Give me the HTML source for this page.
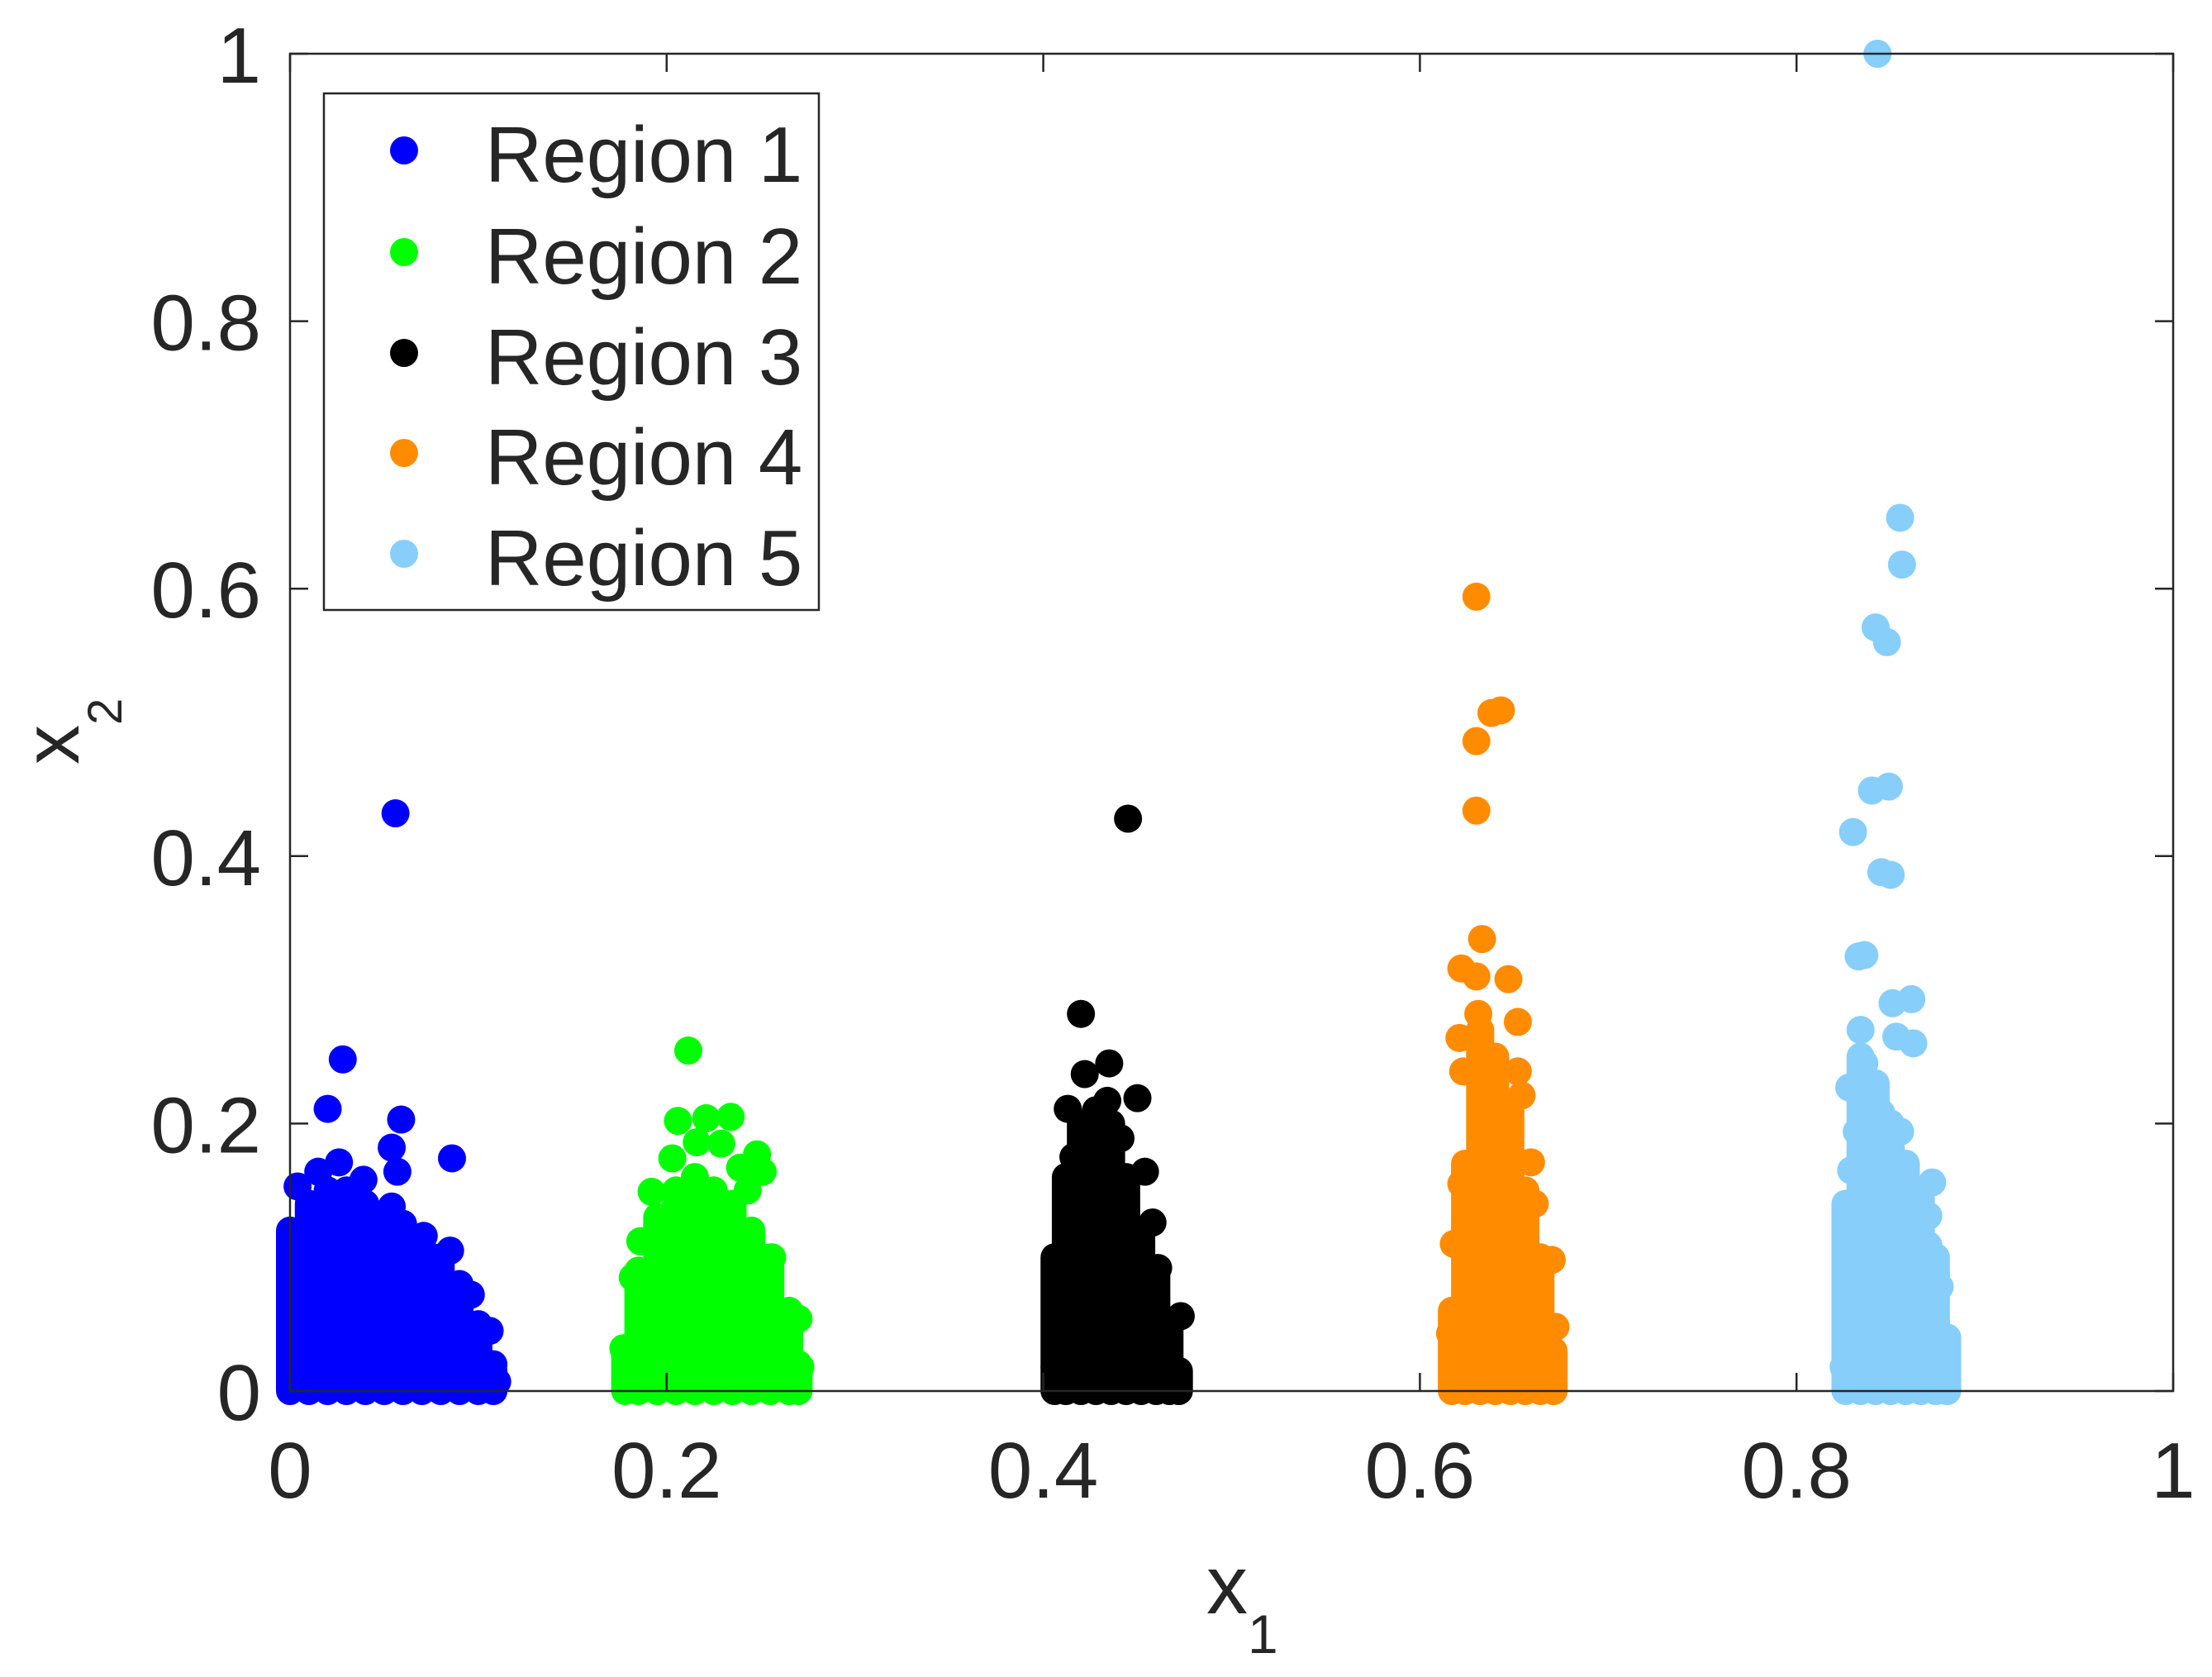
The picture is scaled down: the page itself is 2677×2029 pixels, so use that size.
<!DOCTYPE html>
<html><head><meta charset="utf-8">
<style>
html,body{margin:0;padding:0;background:#fff;}
svg{display:block;}
text{font-family:"Liberation Sans",Arial,sans-serif;fill:#262626;}
</style></head>
<body>
<svg id="chart" width="2677" height="2029" viewBox="0 0 2677 2029" xmlns="http://www.w3.org/2000/svg">
<rect x="0" y="0" width="2677" height="2029" fill="#fff"/>
<defs><clipPath id="clip"><rect x="300" y="20" width="2377" height="1700"/></clipPath></defs>
<g id="marks" clip-path="url(#clip)"></g>
<g id="axes"></g>
<g id="legend"></g>
</svg>
<script>
// ---- data ----
const regionNames = ["Region 1","Region 2","Region 3","Region 4","Region 5"];
const regionColors = ["#0000ff","#00ff00","#000000","#ff8c00","#87cefa"];
// dense body envelopes: column x and top of column (x2)
const r1BodyX = [0.0,0.01,0.02,0.03,0.04,0.05,0.06,0.07,0.08,0.09,0.1,0.108];
const r1BodyTop = [0.12,0.14,0.15,0.15,0.14,0.13,0.125,0.11,0.1,0.08,0.05,0.015];
const r2BodyX = [0.178,0.185,0.195,0.205,0.215,0.225,0.235,0.245,0.255,0.265,0.27];
const r2BodyTop = [0.03,0.09,0.13,0.15,0.16,0.15,0.14,0.12,0.1,0.06,0.02];
const r3BodyX = [0.406,0.412,0.42,0.428,0.436,0.444,0.452,0.46,0.467,0.472];
const r3BodyTop = [0.1,0.16,0.2,0.21,0.2,0.16,0.12,0.09,0.05,0.015];
const r4BodyX = [0.617,0.624,0.632,0.64,0.648,0.656,0.664,0.671];
const r4BodyTop = [0.06,0.17,0.27,0.25,0.21,0.15,0.1,0.03];
const r5BodyX = [0.826,0.834,0.842,0.85,0.858,0.866,0.874,0.88];
const r5BodyTop = [0.14,0.25,0.23,0.2,0.17,0.15,0.1,0.04];
// individual scattered points
const r1PtX = [0.056,0.028,0.020,0.059,0.086,0.054,0.026,0.015,0.004,0.039,0.057,0.054,0.030,0.071,0.085,0.096,0.106,0.108,0.110,0.0,0.0];
const r1PtY = [0.432,0.248,0.211,0.203,0.174,0.182,0.171,0.164,0.153,0.158,0.164,0.138,0.138,0.116,0.105,0.072,0.045,0.02,0.007,0.114,0.08];
const r2PtX = [0.2115,0.206,0.221,0.234,0.216,0.229,0.203,0.248,0.251,0.239,0.215,0.192,0.243,0.186,0.256,0.182,0.270,0.271,0.177];
const r2PtY = [0.2546,0.202,0.204,0.205,0.186,0.185,0.174,0.177,0.164,0.167,0.159,0.149,0.150,0.112,0.1,0.085,0.054,0.018,0.032];
const r3PtX = [0.445,0.420,0.435,0.422,0.413,0.434,0.450,0.441,0.454,0.416,0.412,0.458,0.461,0.473,0.471,0.406,0.408];
const r3PtY = [0.428,0.282,0.245,0.237,0.211,0.217,0.219,0.189,0.164,0.175,0.140,0.126,0.092,0.056,0.014,0.018,0.101];
const r4PtX = [0.630,0.638,0.643,0.630,0.630,0.633,0.622,0.630,0.647,0.631,0.652,0.621,0.623,0.652,0.654,0.659,0.622,0.661,0.618,0.670,0.672,0.671,0.616];
const r4PtY = [0.594,0.507,0.509,0.486,0.434,0.338,0.316,0.310,0.308,0.282,0.276,0.264,0.239,0.239,0.221,0.171,0.155,0.140,0.110,0.098,0.048,0.011,0.043];
const r5PtX = [0.843,0.855,0.856,0.842,0.848,0.840,0.849,0.830,0.845,0.850,0.833,0.836,0.851,0.861,0.834,0.862,0.853,0.836,0.828,0.845,0.832,0.855,0.829,0.872,0.827,0.870,0.870,0.876,0.878,0.878,0.825];
const r5PtY = [1.0,0.653,0.618,0.571,0.560,0.449,0.452,0.418,0.388,0.386,0.325,0.326,0.290,0.293,0.270,0.260,0.265,0.245,0.227,0.208,0.194,0.194,0.165,0.156,0.135,0.131,0.109,0.078,0.038,0.013,0.018];
const xTickLabels = ["0","0.2","0.4","0.6","0.8","1"];
const yTickLabels = ["0","0.2","0.4","0.6","0.8","1"];

// ---- layout ----
const L=351, R=2630, T=65, B=1683, MR=17;
function sx(v){return L+v*(R-L);}
function sy(v){return B-v*(B-T);}
const NS="http://www.w3.org/2000/svg";
function mk(tag,attrs,parent){const e=document.createElementNS(NS,tag);for(const k in attrs)e.setAttribute(k,attrs[k]);parent.appendChild(e);return e;}
const marks=document.getElementById('marks');
const bodies=[[r1BodyX,r1BodyTop],[r2BodyX,r2BodyTop],[r3BodyX,r3BodyTop],[r4BodyX,r4BodyTop],[r5BodyX,r5BodyTop]];
const pts=[[r1PtX,r1PtY],[r2PtX,r2PtY],[r3PtX,r3PtY],[r4PtX,r4PtY],[r5PtX,r5PtY]];
for(let r=0;r<5;r++){
  const g=mk('g',{},marks);
  
  
  const bx=bodies[r][0], bt=bodies[r][1];
  for(let i=0;i<bx.length;i++){
    const c=mk('line',{x1:sx(bx[i]),x2:sx(bx[i]),y1:sy(0),y2:sy(bt[i]),stroke:regionColors[r],'stroke-width':2*MR,'stroke-linecap':'round'},g);
    
    
  }
  const px=pts[r][0], py=pts[r][1];
  for(let i=0;i<px.length;i++){
    const c=mk('circle',{cx:sx(px[i]),cy:sy(py[i]),r:MR,fill:regionColors[r]},g);
    
    
  }
}
// ---- axes ----
const ax=document.getElementById('axes');
const frame=mk('rect',{x:L,y:T,width:R-L,height:B-T,fill:'none',stroke:'#262626','stroke-width':2.5},ax);


for(let i=0;i<xTickLabels.length;i++){
  const v=parseFloat(xTickLabels[i]);const x=sx(v);
  mk('line',{x1:x,x2:x,y1:B,y2:B-22,stroke:'#262626','stroke-width':2.5},ax);
  mk('line',{x1:x,x2:x,y1:T,y2:T+22,stroke:'#262626','stroke-width':2.5},ax);
  const t=mk('text',{x:x,y:1812,'font-size':96,'text-anchor':'middle'},ax);
  t.textContent=xTickLabels[i];
  
  
}
for(let i=0;i<yTickLabels.length;i++){
  const v=parseFloat(yTickLabels[i]);const y=sy(v);
  mk('line',{x1:L,x2:L+22,y1:y,y2:y,stroke:'#262626','stroke-width':2.5},ax);
  mk('line',{x1:R,x2:R-22,y1:y,y2:y,stroke:'#262626','stroke-width':2.5},ax);
  const t=mk('text',{x:316,y:y+35,'font-size':96,'text-anchor':'end'},ax);
  t.textContent=yTickLabels[i];
  
  
}
// axis titles
const xt=mk('text',{x:1460,y:1952,'font-size':100},ax);


xt.innerHTML='x<tspan font-size="66" dy="48">1</tspan>';
const yt=mk('text',{transform:'translate(95,925) rotate(-90)','font-size':96},ax);


yt.innerHTML='x<tspan font-size="58" dy="52">2</tspan>';
// ---- legend ----
const lg=document.getElementById('legend');
const box=mk('rect',{x:392,y:113,width:599,height:625,fill:'#fff',stroke:'#262626','stroke-width':2.5},lg);


const entryY=[182,305,427,548,670];
for(let r=0;r<5;r++){
  const g=mk('g',{},lg);
  
  
  mk('circle',{cx:489,cy:entryY[r],r:17,fill:regionColors[r]},g);
  const t=mk('text',{x:587,y:entryY[r]+38,'font-size':96,fill:'#000'},g);
  t.textContent=regionNames[r];
}
</script>
</body></html>
